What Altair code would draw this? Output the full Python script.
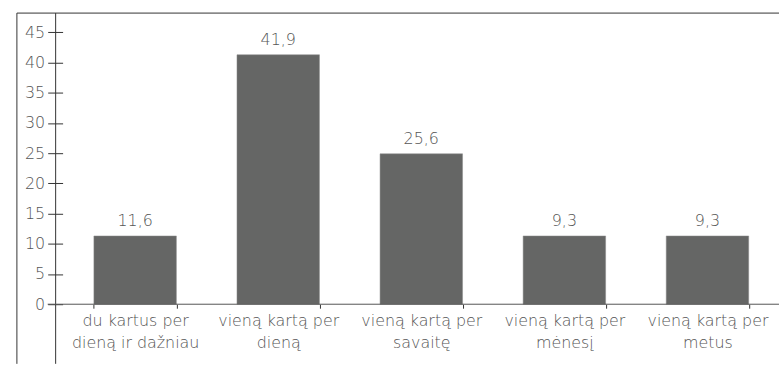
import altair as alt
import pandas as pd

categories = [
    "du kartus per\ndieną ir dažniau",
    "vieną kartą per\ndieną",
    "vieną kartą per\nsavaitę",
    "vieną kartą per\nmėnesį",
    "vieną kartą per\nmetus",
]
bar_heights = [11.3, 41.3, 24.9, 11.3, 11.3]
value_labels = ["11,6", "41,9", "25,6", "9,3", "9,3"]
y_ticks = [0, 5, 10, 15, 20, 25, 30, 35, 40, 45]

df = pd.DataFrame({"cat": categories, "val": bar_heights, "lab": value_labels})

W, H = 720, 293
FONT = "DejaVu Sans"
WEIGHT = 200
TXT = "#555555"
LINE = "#333333"

x_enc = alt.X(
    "cat:N",
    sort=categories,
    scale=alt.Scale(paddingInner=0.4236, paddingOuter=0.2118),
    axis=alt.Axis(
        title=None,
        domain=False,
        labelAngle=0,
        labelExpr="split(datum.label, '\\n')",
        labelFont=FONT,
        labelFontWeight=WEIGHT,
        labelFontSize=16,
        labelColor=TXT,
        labelLineHeight=23,
        labelPadding=4,
        labelOverlap=False,
        tickBand="extent",
        tickSize=4,
        tickColor=LINE,
        labelBaseline="top",
    ),
)
y_enc = alt.Y(
    "val:Q",
    scale=alt.Scale(domain=[0, 48.2], nice=False),
    axis=alt.Axis(
        title=None,
        domain=False,
        values=y_ticks,
        offset=1,
        tickSize=15,
        tickColor=LINE,
        labelPadding=3,
        labelOverlap=False,
        labelFont=FONT,
        labelFontWeight=WEIGHT,
        labelFontSize=16,
        labelColor=TXT,
        grid=False,
    ),
)

bars = alt.Chart(df).mark_bar(color="#656665", stroke="#8a8a8a", strokeWidth=0.5).encode(
    x=x_enc, y=y_enc
)
texts = alt.Chart(df).mark_text(
    dy=-7, baseline="bottom", font=FONT, fontWeight=WEIGHT, fontSize=16, color=TXT
).encode(x=x_enc, y=y_enc, text="lab:N")

frame_df = pd.DataFrame({"d": [0]})
top_line = alt.Chart(frame_df).mark_rule(color=LINE, strokeWidth=1).encode(
    x=alt.value(-47), x2=alt.value(W), y=alt.value(0)
)
left_line = alt.Chart(frame_df).mark_rule(color=LINE, strokeWidth=1).encode(
    x=alt.value(-47), y=alt.value(0), y2=alt.value(H + 60)
)
yaxis_line = alt.Chart(frame_df).mark_rule(color=LINE, strokeWidth=1).encode(
    x=alt.value(-8), y=alt.value(0), y2=alt.value(H + 60)
)
xaxis_line = alt.Chart(frame_df).mark_rule(color="#555555", strokeWidth=1).encode(
    x=alt.value(-16), x2=alt.value(W), y=alt.value(H)
)

chart = (
    alt.layer(bars, texts, top_line, left_line, yaxis_line, xaxis_line)
    .properties(
        width=W,
        height=H,
        autosize=alt.AutoSizeParams(type="none"),
        padding={"left": 64, "top": 12, "right": 0, "bottom": 60},
        background="white",
    )
    .configure_view(stroke=None)
)

chart.save("out.html", embed_options={"renderer": "svg", "actions": False})
